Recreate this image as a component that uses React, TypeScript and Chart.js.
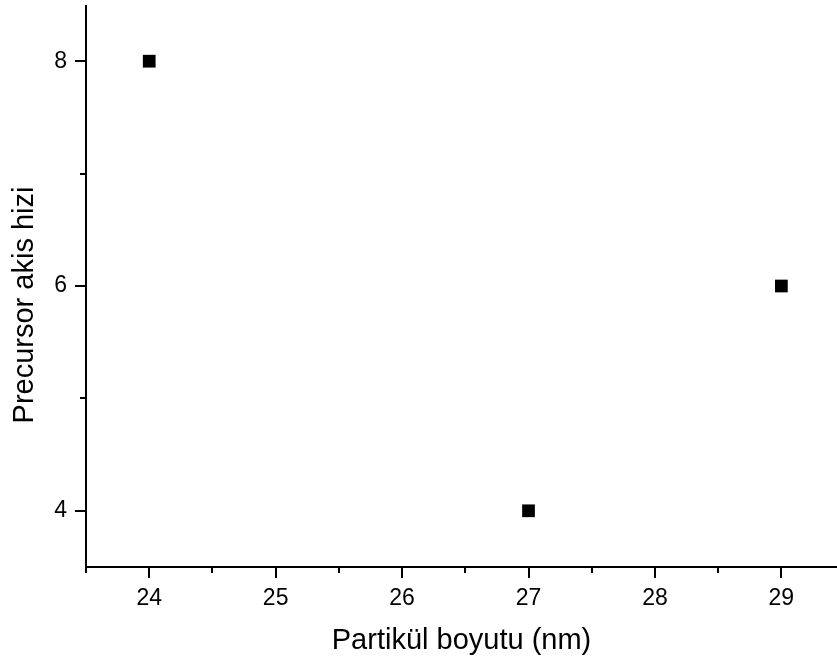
import React, { useEffect, useRef } from 'react';
import { Chart, registerables } from 'chart.js';

Chart.register(...registerables);

// ---- data ----
const particleSize = [24, 27, 29];
const precursorFlow = [8, 4, 6];
const xMajorTicks = [24, 25, 26, 27, 28, 29];
const yMajorTicks = [4, 6, 8];
const xTitle = 'Partikül boyutu (nm)';
const yTitle = 'Precursor akis hizi';

const FONT = '"Liberation Sans", Arial, Helvetica, sans-serif';

const axesPlugin = {
  id: 'originAxes',
  afterDraw(chart: any) {
    const ctx = chart.ctx as CanvasRenderingContext2D;
    const { left, right, top, bottom } = chart.chartArea;
    const xs = chart.scales.x;
    const ys = chart.scales.y;
    ctx.save();
    ctx.strokeStyle = '#000';
    ctx.lineWidth = 2;
    ctx.beginPath();
    ctx.moveTo(left, top);
    ctx.lineTo(left, bottom + 4);
    ctx.moveTo(left - 1, bottom);
    ctx.lineTo(right, bottom);
    ctx.stroke();

    // x ticks
    const xStep = xMajorTicks[1] - xMajorTicks[0];
    ctx.beginPath();
    xMajorTicks.forEach((v) => {
      const px = Math.round(xs.getPixelForValue(v));
      ctx.moveTo(px, bottom);
      ctx.lineTo(px, bottom + 11);
    });
    const xMinor = [xMajorTicks[0] - xStep / 2, ...xMajorTicks.map((v) => v + xStep / 2)];
    xMinor.forEach((v) => {
      if (v < xs.min || v > xs.max) return;
      const px = Math.round(xs.getPixelForValue(v));
      ctx.moveTo(px, bottom);
      ctx.lineTo(px, bottom + 6);
    });
    ctx.stroke();

    // y ticks
    const yStep = yMajorTicks[1] - yMajorTicks[0];
    ctx.beginPath();
    yMajorTicks.forEach((v) => {
      const py = Math.round(ys.getPixelForValue(v));
      ctx.moveTo(left, py);
      ctx.lineTo(left - 11, py);
    });
    yMajorTicks.slice(0, -1).forEach((v) => {
      const py = Math.round(ys.getPixelForValue(v + yStep / 2));
      ctx.moveTo(left, py);
      ctx.lineTo(left - 6, py);
    });
    ctx.stroke();

    // titles
    ctx.fillStyle = '#000';
    ctx.textAlign = 'center';
    ctx.textBaseline = 'alphabetic';
    ctx.font = `29px ${FONT}`;
    ctx.fillText(xTitle, (left + right) / 2, 649);
    ctx.translate(33, 305);
    ctx.rotate(-Math.PI / 2);
    ctx.fillText(yTitle, 0, 0);
    ctx.restore();
  },
};

const zeroPad = (s: any) => {
  s.paddingTop = 0;
  s.paddingBottom = 0;
  s.paddingLeft = 0;
  s.paddingRight = 0;
};

export default function App() {
  const ref = useRef<HTMLCanvasElement | null>(null);
  useEffect(() => {
    if (!ref.current) return;
    const chart = new Chart(ref.current, {
      type: 'scatter',
      data: {
        datasets: [
          {
            data: particleSize.map((x, i) => ({ x, y: precursorFlow[i] })),
            pointStyle: 'rect',
            pointRadius: 9,
            pointHoverRadius: 9,
            backgroundColor: '#000',
            borderColor: '#000',
            borderWidth: 0,
          },
        ],
      },
      options: {
        animation: false,
        responsive: false,
        events: [],
        layout: { autoPadding: false, padding: { left: 0, right: 0, top: 5, bottom: 0 } },
        plugins: { legend: { display: false }, tooltip: { enabled: false } },
        scales: {
          x: {
            type: 'linear',
            position: 'bottom',
            min: 23.5,
            max: 29.44,
            grid: { display: false, drawTicks: false },
            border: { display: false },
            afterBuildTicks: (s: any) => {
              s.ticks = xMajorTicks.map((v) => ({ value: v }));
            },
            afterFit: (s: any) => {
              s.height = 92;
              zeroPad(s);
            },
            ticks: {
              padding: 18,
              color: '#000',
              font: { family: FONT, size: 23 },
              maxRotation: 0,
              autoSkip: false,
              callback: (v: any) => String(v),
            },
          },
          y: {
            type: 'linear',
            position: 'left',
            min: 3.5,
            max: 8.5,
            grid: { display: false, drawTicks: false },
            border: { display: false },
            afterBuildTicks: (s: any) => {
              s.ticks = yMajorTicks.map((v) => ({ value: v }));
            },
            afterFit: (s: any) => {
              s.width = 86;
              zeroPad(s);
            },
            ticks: {
              padding: 19,
              color: '#000',
              font: { family: FONT, size: 23 },
              autoSkip: false,
              callback: (v: any) => String(v),
            },
          },
        },
      },
      plugins: [axesPlugin],
    });
    return () => chart.destroy();
  }, []);
  return (
    <div style={{ position: 'absolute', left: 0, top: 0, width: 837, height: 659, background: '#fff' }}>
      <canvas ref={ref} width={837} height={659} style={{ display: 'block' }} />
    </div>
  );
}
